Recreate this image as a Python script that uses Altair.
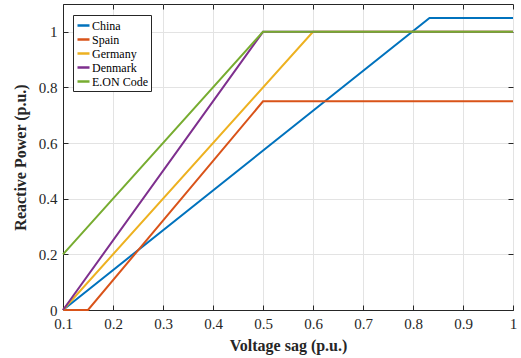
import altair as alt
import pandas as pd

series = ["China", "Spain", "Germany", "Denmark", "E.ON Code"]
colors = ["#0072BD", "#D95319", "#EDB120", "#7E2F8E", "#77AC30"]

china_x = [0.1, 0.833, 1.0]
china_y = [0.0, 1.05, 1.05]
spain_x = [0.1, 0.15, 0.5, 1.0]
spain_y = [0.0, 0.0, 0.75, 0.75]
germany_x = [0.1, 0.6, 1.0]
germany_y = [0.0, 1.0, 1.0]
denmark_x = [0.1, 0.5, 1.0]
denmark_y = [0.0, 1.0, 1.0]
eon_x = [0.1, 0.5, 1.0]
eon_y = [0.2, 1.0, 1.0]

x_ticks = [0.1, 0.2, 0.3, 0.4, 0.5, 0.6, 0.7, 0.8, 0.9, 1.0]
y_ticks = [0, 0.2, 0.4, 0.6, 0.8, 1.0]

rows = []
for name, xs, ys in [("China", china_x, china_y), ("Spain", spain_x, spain_y),
                     ("Germany", germany_x, germany_y), ("Denmark", denmark_x, denmark_y),
                     ("E.ON Code", eon_x, eon_y)]:
    for i, (a, b) in enumerate(zip(xs, ys)):
        rows.append({"series": name, "order": i, "x": a, "y": b})
df = pd.DataFrame(rows)

W, H = 450, 306
FONT = "Liberation Serif, Times New Roman, serif"
xscale = alt.Scale(domain=[0.1, 1.0], nice=False, zero=False)
yscale = alt.Scale(domain=[0, 1.1], nice=False)

base = alt.Chart(df)

main = base.mark_line(strokeWidth=2).encode(
    x=alt.X("x:Q", scale=xscale, title="Voltage sag (p.u.)",
            axis=alt.Axis(values=x_ticks, format="~g", ticks=False, grid=True,
                          gridColor="#e3e3e3", domainColor="#262626",
                          labelFlush=False, labelOverlap=False,
                          labelFont=FONT, labelFontSize=15, labelColor="#262626",
                          labelPadding=6, titleFont=FONT, titleFontSize=16,
                          titleFontWeight="bold", titleColor="#262626", titlePadding=6)),
    y=alt.Y("y:Q", scale=yscale, title="Reactive Power (p.u.)",
            axis=alt.Axis(values=y_ticks, format="~g", ticks=False, grid=True,
                          gridColor="#e3e3e3", domainColor="#262626",
                          labelFlush=False, labelOverlap=False,
                          labelFont=FONT, labelFontSize=15, labelColor="#262626",
                          labelPadding=6, titleFont=FONT, titleFontSize=16,
                          titleFontWeight="bold", titleColor="#262626", titlePadding=10)),
    color=alt.Color("series:N", sort=series,
                    scale=alt.Scale(domain=series, range=colors),
                    legend=alt.Legend(title=None, orient="none", legendX=10, legendY=11,
                                      symbolType="stroke", symbolStrokeWidth=2.5,
                                      symbolSize=144, labelFont=FONT, labelFontSize=12,
                                      labelColor="#000000", fillColor="white",
                                      strokeColor="#262626", padding=3, rowPadding=-1,
                                      labelOffset=1, symbolOffset=0)),
    order="order:Q",
)

def tick_axis(orient, offset, vals):
    return alt.Axis(orient=orient, offset=offset, values=vals, labels=False, title=None,
                    domain=False, grid=False, ticks=True, tickSize=5, tickWidth=1,
                    tickColor="#262626")

ticks1 = base.mark_point(opacity=0).encode(
    x=alt.X("x:Q", scale=xscale, axis=tick_axis("top", -H, x_ticks)),
    y=alt.Y("y:Q", scale=yscale, axis=tick_axis("right", -W, y_ticks)),
)
ticks2 = base.mark_point(opacity=0).encode(
    x=alt.X("x:Q", scale=xscale, axis=tick_axis("bottom", -H, x_ticks)),
    y=alt.Y("y:Q", scale=yscale, axis=tick_axis("left", -W, y_ticks)),
)

chart = alt.layer(main, ticks1, ticks2).resolve_axis(
    x="independent", y="independent"
).properties(
    width=W, height=H,
    autosize=alt.AutoSizeParams(type="none"),
    padding={"left": 63, "top": 4, "right": 8, "bottom": 48},
    background="white",
).configure(font=FONT).configure_view(stroke="#262626", strokeWidth=1)

chart.save("out.html", embed_options={"renderer": "svg", "actions": False})
